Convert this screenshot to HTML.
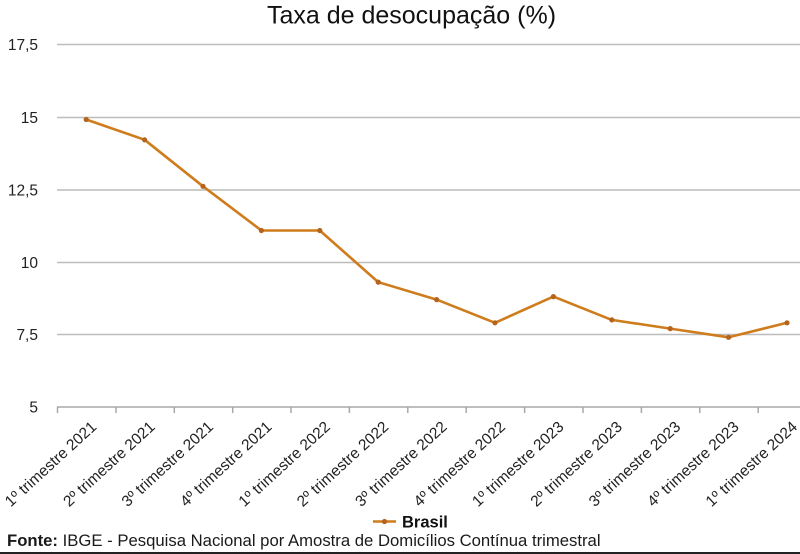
<!DOCTYPE html>
<html>
<head>
<meta charset="utf-8">
<style>
  html,body{margin:0;padding:0;background:#fff;}
  svg{display:block;}
  text{font-family:"Liberation Sans", Arial, sans-serif;}
</style>
</head>
<body>
<svg width="800" height="554" viewBox="0 0 800 554" xmlns="http://www.w3.org/2000/svg">
  <rect x="0" y="0" width="800" height="554" fill="#ffffff"/>
  <!-- Title -->
  <text x="411.5" y="23.5" font-size="25" text-anchor="middle" fill="#111">Taxa de desocupação (%)</text>

  <!-- Gridlines -->
  <g stroke="#bcbcbc" stroke-width="1.5">
    <line x1="57" y1="44.5" x2="800" y2="44.5"/>
    <line x1="57" y1="117.5" x2="800" y2="117.5"/>
    <line x1="57" y1="190" x2="800" y2="190"/>
    <line x1="57" y1="262.5" x2="800" y2="262.5"/>
    <line x1="57" y1="334.5" x2="800" y2="334.5"/>
  </g>
  <!-- X axis -->
  <g stroke="#a8a8a8" stroke-width="1.5">
    <line x1="57" y1="407" x2="800" y2="407"/>
    <line x1="57.5" y1="407" x2="57.5" y2="413"/>
    <line x1="116" y1="407" x2="116" y2="413"/>
    <line x1="174.3" y1="407" x2="174.3" y2="413"/>
    <line x1="232.7" y1="407" x2="232.7" y2="413"/>
    <line x1="291" y1="407" x2="291" y2="413"/>
    <line x1="349.4" y1="407" x2="349.4" y2="413"/>
    <line x1="407.8" y1="407" x2="407.8" y2="413"/>
    <line x1="466.2" y1="407" x2="466.2" y2="413"/>
    <line x1="524.6" y1="407" x2="524.6" y2="413"/>
    <line x1="583" y1="407" x2="583" y2="413"/>
    <line x1="641.4" y1="407" x2="641.4" y2="413"/>
    <line x1="699.8" y1="407" x2="699.8" y2="413"/>
    <line x1="758.2" y1="407" x2="758.2" y2="413"/>
  </g>

  <!-- Y labels -->
  <g font-size="15.5" fill="#222" text-anchor="end">
    <text x="38" y="50">17,5</text>
    <text x="38" y="123">15</text>
    <text x="38" y="195.5">12,5</text>
    <text x="38" y="268">10</text>
    <text x="38" y="340">7,5</text>
    <text x="38" y="412.5">5</text>
  </g>

  <!-- X labels -->
  <g font-size="15.5" fill="#222" text-anchor="end">
    <text transform="translate(97.5,428) rotate(-42.5)">1º trimestre 2021</text>
    <text transform="translate(155.9,428) rotate(-42.5)">2º trimestre 2021</text>
    <text transform="translate(214.3,428) rotate(-42.5)">3º trimestre 2021</text>
    <text transform="translate(272.7,428) rotate(-42.5)">4º trimestre 2021</text>
    <text transform="translate(331.1,428) rotate(-42.5)">1º trimestre 2022</text>
    <text transform="translate(389.5,428) rotate(-42.5)">2º trimestre 2022</text>
    <text transform="translate(447.9,428) rotate(-42.5)">3º trimestre 2022</text>
    <text transform="translate(506.3,428) rotate(-42.5)">4º trimestre 2022</text>
    <text transform="translate(564.7,428) rotate(-42.5)">1º trimestre 2023</text>
    <text transform="translate(623.1,428) rotate(-42.5)">2º trimestre 2023</text>
    <text transform="translate(681.5,428) rotate(-42.5)">3º trimestre 2023</text>
    <text transform="translate(739.9,428) rotate(-42.5)">4º trimestre 2023</text>
    <text transform="translate(798.3,428) rotate(-42.5)">1º trimestre 2024</text>
  </g>

  <!-- Series -->
  <polyline fill="none" stroke="#cf7c1c" stroke-width="2.6" stroke-linejoin="round"
    points="86.2,119.5 144.6,139.8 203,186.3 261.4,230.5 319.8,230.5 378.2,282.1 436.6,299.6 495,322.8 553.4,296.6 611.8,319.9 670.2,328.6 728.6,337.3 787,322.8"/>
  <g fill="#b4641c">
    <circle cx="86.2" cy="119.5" r="2.6"/>
    <circle cx="144.6" cy="139.8" r="2.6"/>
    <circle cx="203" cy="186.3" r="2.6"/>
    <circle cx="261.4" cy="230.5" r="2.6"/>
    <circle cx="319.8" cy="230.5" r="2.6"/>
    <circle cx="378.2" cy="282.1" r="2.6"/>
    <circle cx="436.6" cy="299.6" r="2.6"/>
    <circle cx="495" cy="322.8" r="2.6"/>
    <circle cx="553.4" cy="296.6" r="2.6"/>
    <circle cx="611.8" cy="319.9" r="2.6"/>
    <circle cx="670.2" cy="328.6" r="2.6"/>
    <circle cx="728.6" cy="337.3" r="2.6"/>
    <circle cx="787" cy="322.8" r="2.6"/>
  </g>

  <!-- Legend -->
  <line x1="373" y1="521.5" x2="396" y2="521.5" stroke="#cf7c1c" stroke-width="2.6"/>
  <circle cx="384.5" cy="521.5" r="2.6" fill="#b4641c"/>
  <text x="402" y="527.3" font-size="16.5" font-weight="bold" fill="#111">Brasil</text>

  <!-- Source -->
  <text x="7" y="546" font-size="16.7" fill="#1a1a1a"><tspan font-weight="bold">Fonte:</tspan> IBGE - Pesquisa Nacional por Amostra de Domicílios Contínua trimestral</text>

  <!-- Bottom border -->
  <rect x="0" y="552" width="800" height="2" fill="#222"/>
</svg>
</body>
</html>
